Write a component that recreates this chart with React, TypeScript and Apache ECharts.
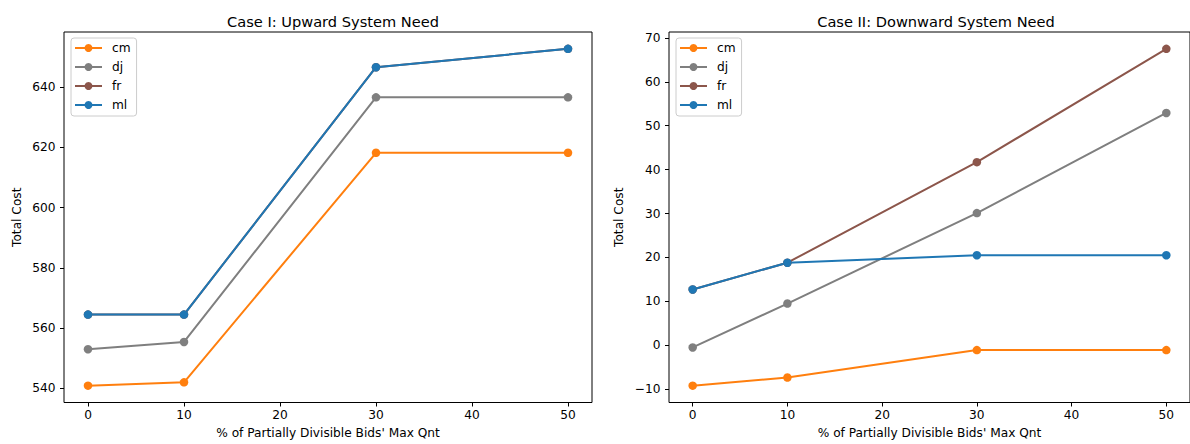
import React, { useEffect, useRef } from "react";
import * as echarts from "echarts";

// ---- data ----
const xValues = [0, 10, 30, 50];
const xTicks = [0, 10, 20, 30, 40, 50];
const seriesNames = ["cm", "dj", "fr", "ml"];
const seriesColors = ["#ff7f0e", "#7f7f7f", "#8c564b", "#1f77b4"];

const titles = ["Case I: Upward System Need", "Case II: Downward System Need"];
const xAxisTitle = "% of Partially Divisible Bids' Max Qnt";
const yAxisTitle = "Total Cost";

const upCm = [540.9, 542.0, 618.2, 618.2];
const upDj = [553.0, 555.4, 636.6, 636.6];
const upFr = [564.5, 564.5, 646.6, 652.7];
const upMl = [564.5, 564.5, 646.6, 652.7];
const upTicks = [540, 560, 580, 600, 620, 640];

const downCm = [-9.2, -7.35, -1.1, -1.1];
const downDj = [-0.5, 9.5, 30.1, 52.9];
const downFr = [12.7, 18.8, 41.7, 67.5];
const downMl = [12.7, 18.8, 20.5, 20.5];
const downTicks = [-10, 0, 10, 20, 30, 40, 50, 60, 70];

const panels = [
  { title: titles[0], series: [upCm, upDj, upFr, upMl], ticks: upTicks },
  { title: titles[1], series: [downCm, downDj, downFr, downMl], ticks: downTicks },
];

// ---- layout ----
const FONT = "DejaVu Sans";
const grids = [
  { left: 64, top: 32, width: 528, height: 372 },
  { left: 669, top: 32, width: 524, height: 372 },
];
const yNameGaps = [41, 44];

function padded(vals: number[]): [number, number] {
  const mn = Math.min(...vals);
  const mx = Math.max(...vals);
  const r = mx - mn;
  return [mn - r * 0.05, mx + r * 0.05];
}

function fmt(v: number): string {
  return v < 0 ? "\u2212" + String(Math.abs(v)) : String(v);
}

export default function App() {
  const ref = useRef<HTMLDivElement>(null);
  useEffect(() => {
    if (!ref.current) return;
    const chart = echarts.init(ref.current, null, { renderer: "svg" });
    const [xMin, xMax] = padded(xValues);
    const option: any = {
      animation: false,
      textStyle: { fontFamily: FONT, color: "#000" },
      title: panels.map((p, i) => ({
        text: p.title,
        left: grids[i].left + grids[i].width / 2,
        top: 9,
        textAlign: "center",
        textStyle: { fontFamily: FONT, fontSize: 14.6, fontWeight: "normal", color: "#000" },
      })),
      grid: grids.map((g) => ({
        ...g,
        show: true,
        borderColor: "#000",
        borderWidth: 1,
        backgroundColor: "transparent",
        containLabel: false,
      })),
      legend: panels.map((p, i) => ({
        data: seriesNames,
        orient: "vertical",
        left: grids[i].left + 7,
        top: 38,
        itemWidth: 27,
        itemHeight: 10,
        itemGap: 7,
        padding: [4, 6, 5, 3],
        borderColor: "#cccccc",
        borderWidth: 1,
        borderRadius: 3,
        backgroundColor: "rgba(255,255,255,0.8)",
        selectedMode: false,
        textStyle: { fontFamily: FONT, fontSize: 12.2, color: "#000", padding: [0, 0, 0, 5] },
      })),
      xAxis: panels.map((p, i) => ({
        type: "value",
        gridIndex: i,
        min: xMin,
        max: xMax,
        name: xAxisTitle,
        nameLocation: "middle",
        nameGap: 24.5,
        nameTextStyle: { fontFamily: FONT, fontSize: 12.2, color: "#000" },
        axisLine: { show: false, onZero: false },
        axisTick: { show: true, length: 4, customValues: xTicks, lineStyle: { color: "#000", width: 1 } },
        axisLabel: {
          customValues: xTicks,
          margin: 6.5,
          fontFamily: FONT,
          fontSize: 12.2,
          color: "#000",
          formatter: (v: number) => fmt(v),
        },
        splitLine: { show: false },
      })),
      yAxis: panels.map((p, i) => {
        const allVals = ([] as number[]).concat(...p.series);
        const [mn, mx] = padded(allVals);
        return {
          type: "value",
          gridIndex: i,
          min: mn,
          max: mx,
          name: yAxisTitle,
          nameLocation: "middle",
          nameRotate: 90,
          nameGap: yNameGaps[i],
          nameTextStyle: { fontFamily: FONT, fontSize: 12.2, color: "#000" },
          axisLine: { show: false, onZero: false },
          axisTick: { show: true, length: 4, customValues: p.ticks, lineStyle: { color: "#000", width: 1 } },
          axisLabel: {
            customValues: p.ticks,
            margin: 8.5,
            fontFamily: FONT,
            fontSize: 12.2,
            color: "#000",
            formatter: (v: number) => fmt(v),
          },
          splitLine: { show: false },
        };
      }),
      series: panels.flatMap((p, i) =>
        p.series.map((vals, k) => ({
          type: "line",
          name: seriesNames[k],
          xAxisIndex: i,
          yAxisIndex: i,
          data: xValues.map((x, j) => [x, vals[j]]),
          symbol: "circle",
          symbolSize: 8.5,
          showSymbol: true,
          color: seriesColors[k],
          itemStyle: { color: seriesColors[k] },
          lineStyle: { color: seriesColors[k], width: 2 },
          emphasis: { disabled: true },
        }))
      ),
    };
    chart.setOption(option);
    return () => chart.dispose();
  }, []);
  return (
    <div
      ref={ref}
      style={{ position: "absolute", left: 0, top: 0, width: 1190, height: 444, background: "#fff", overflow: "hidden" }}
    />
  );
}
